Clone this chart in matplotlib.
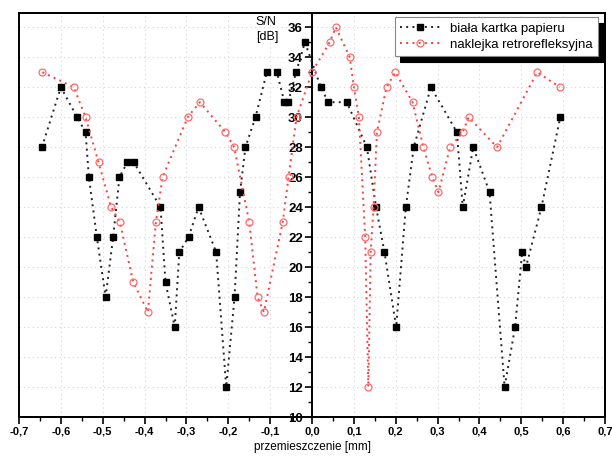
import matplotlib
matplotlib.use("Agg")
import matplotlib.pyplot as plt
from matplotlib.patches import Rectangle
from matplotlib.ticker import MultipleLocator, FuncFormatter

plt.rcParams['font.family'] = ['Liberation Sans', 'DejaVu Sans']

# biała kartka papieru
paper_x = [-0.645, -0.600, -0.561, -0.541, -0.533, -0.514, -0.493, -0.475, -0.460,
           -0.441, -0.426, -0.362, -0.350, -0.328, -0.317, -0.295, -0.271, -0.229,
           -0.205, -0.185, -0.172, -0.159, -0.135, -0.108, -0.084, -0.066, -0.057,
           -0.038, -0.017, 0.021, 0.039, 0.083, 0.131, 0.153, 0.173, 0.201, 0.224,
           0.243, 0.284, 0.346, 0.360, 0.385, 0.424, 0.460, 0.485, 0.502, 0.511,
           0.548, 0.593]
paper_y = [28, 32, 30, 29, 26, 22, 18, 22, 26,
           27, 27, 24, 19, 16, 21, 22, 24, 21,
           12, 18, 25, 28, 30, 33, 33, 31, 31,
           33, 35, 32, 31, 31, 28, 24, 21, 16, 24,
           28, 32, 29, 24, 28, 25, 12, 16, 21, 20,
           24, 30]

# naklejka retrorefleksyjna
sticker_x = [-0.644, -0.569, -0.541, -0.510, -0.480, -0.459, -0.427, -0.392, -0.373,
             -0.357, -0.297, -0.268, -0.207, -0.186, -0.150, -0.130, -0.115, -0.070,
             -0.056, -0.037, 0.000, 0.042, 0.057, 0.090, 0.100, 0.112, 0.127, 0.1345,
             0.140, 0.147, 0.155, 0.178, 0.199, 0.240, 0.266, 0.287, 0.302, 0.330,
             0.360, 0.374, 0.442, 0.538, 0.592]
sticker_y = [33, 32, 30, 27, 24, 23, 19, 17, 23,
             26, 30, 31, 29, 28, 23, 18, 17, 23,
             26, 30, 33, 35, 36, 34, 32, 30, 22, 12,
             21, 24, 29, 32, 33, 31, 28, 26, 25, 28,
             29, 30, 28, 33, 32]

fig = plt.figure(figsize=(6.12, 4.59), dpi=100)
ax = fig.add_axes([0.031, 0.0915, 0.9577, 0.8802])

ax.plot(paper_x, paper_y, ls=(0, (1, 2.2)), lw=1.4, color='#222222', marker='s', ms=4.3,
        mfc='black', mec='black', label='biała kartka papieru', zorder=3)
ax.plot(sticker_x, sticker_y, ls=(0, (1, 2.2)), lw=1.4, color='#ff3b3b', marker='o', ms=5,
        mfc='none', mec='#ff6a6a', mew=0.9, label='naklejka retrorefleksyjna', zorder=3)

ax.set_xlim(-0.7, 0.7)
ax.set_ylim(10, 36.95)

ax.xaxis.set_major_locator(MultipleLocator(0.1))
ax.xaxis.set_minor_locator(MultipleLocator(0.05))
ax.yaxis.set_major_locator(MultipleLocator(2))
ax.yaxis.set_minor_locator(MultipleLocator(1))
ax.xaxis.set_major_formatter(FuncFormatter(lambda v, p: f"{v:.1f}".replace('.', ',').replace('-0,0', '0,0')))
ax.yaxis.set_major_formatter(FuncFormatter(lambda v, p: f"{v:.0f}"))

# y axis sits at x = 0
ax.spines['left'].set_position(('data', 0))
for s in ax.spines.values():
    s.set_linewidth(1.4)
ax.add_patch(Rectangle((0, 0), 1, 1, transform=ax.transAxes, fill=False,
                       lw=1.4, ec='black', clip_on=False, zorder=5))

ax.tick_params(which='major', direction='out', length=5, width=1.2, labelsize=8, pad=2)
ax.tick_params(axis='y', which='major', labelsize=9.5, pad=1.5)
ax.tick_params(which='minor', direction='out', length=3, width=1.0)
ax.tick_params(top=False, right=False, which='both')
for lbl in ax.get_xticklabels() + ax.get_yticklabels():
    lbl.set_fontweight('bold')

ax.grid(True, which='major', ls=(0, (1, 3)), lw=0.8, color='#d4d4d4', zorder=0)

ax.set_xlabel('przemieszczenie [mm]', fontsize=8.5, labelpad=3)
ax.text(0.404, 0.992, 'S/N\n[dB]', transform=ax.transAxes, ha='left', va='top',
        fontsize=9, linespacing=1.35)

leg = ax.legend(loc='upper right', bbox_to_anchor=(0.988, 0.99), borderaxespad=0,
                fontsize=9.5, handlelength=3, fancybox=False, framealpha=1,
                edgecolor='#888888', borderpad=0.4, labelspacing=0.3,
                shadow={'ox': 4, 'oy': -4, 'color': 'black', 'alpha': 1})
leg.get_frame().set_linewidth(0.8)

fig.savefig('out.png', dpi=100)
